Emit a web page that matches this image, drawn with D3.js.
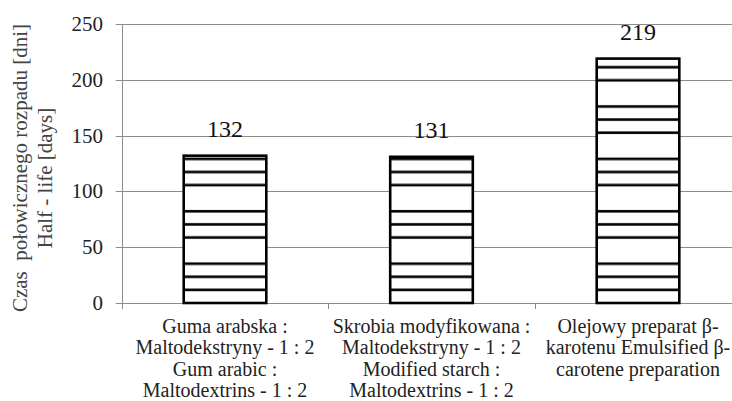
<!DOCTYPE html>
<html>
<head>
<meta charset="utf-8">
<script src="https://cdn.jsdelivr.net/npm/d3@7"></script>
<style>
  html, body { margin: 0; padding: 0; background: #fff; }
  svg { display: block; }
  svg text { font-family: "Liberation Serif", "Times New Roman", "DejaVu Serif", serif; }
</style>
</head>
<body>
<div id="chart"></div>
<script>
// half-life values per sample
const categories = ['guma', 'skrobia', 'olejowy'];
const categoryLines = [
  ['Guma arabska :', 'Maltodekstryny - 1 : 2', 'Gum arabic :', 'Maltodextrins - 1 : 2'],
  ['Skrobia modyfikowana :', 'Maltodekstryny - 1 : 2', 'Modified starch :', 'Maltodextrins - 1 : 2'],
  ['Olejowy preparat β-', 'karotenu Emulsified β-', 'carotene preparation']
];
const halfLife = [132, 131, 219];
const yTicks = [0, 50, 100, 150, 200, 250];
const yTitleLines = ['Czas  połowicznego rozpadu [dni]', 'Half - life [days]'];

const width = 732;
const height = 401;
const left = 121.75;
const step = 206.5;

const svg = d3.select('#chart').append('svg')
  .attr('width', width)
  .attr('height', height);

const x = d3.scaleBand()
  .domain(categories)
  .range([left, left + step * categories.length])
  .paddingInner(0.6)
  .paddingOuter(0.3);

const y = d3.scaleLinear()
  .domain([0, 250])
  .range([303, 24]);

// stripe pattern: 3 lines out of every 4 slots, anchored at the baseline
const slot = 13.1;
const defs = svg.append('defs');
const pat = defs.append('pattern')
  .attr('id', 'stripes')
  .attr('patternUnits', 'userSpaceOnUse')
  .attr('x', 0)
  .attr('y', y(0))
  .attr('width', 20)
  .attr('height', slot * 4);
pat.append('rect').attr('width', 20).attr('height', slot * 4).attr('fill', '#fff');
[1, 2, 3].forEach(k => {
  pat.append('rect')
    .attr('x', 0).attr('width', 20)
    .attr('y', k * slot - 1.3).attr('height', 2.6)
    .attr('fill', '#000');
});

const gridColor = '#8c8c8c';

// gridlines
svg.append('g').selectAll('line')
  .data(yTicks)
  .enter().append('line')
  .attr('x1', left - 6)
  .attr('x2', width)
  .attr('y1', d => Math.round(y(d)) + 0.5)
  .attr('y2', d => Math.round(y(d)) + 0.5)
  .attr('stroke', gridColor)
  .attr('stroke-width', 1);

// y axis line
svg.append('line')
  .attr('x1', Math.round(left) + 0.5).attr('x2', Math.round(left) + 0.5)
  .attr('y1', y(250)).attr('y2', y(0) + 0.5)
  .attr('stroke', gridColor);

// category ticks
const boundaries = categories.map(c => x(c) - x.step() * 0.3).concat([left + step * categories.length]);
svg.append('g').selectAll('line')
  .data(boundaries)
  .enter().append('line')
  .attr('x1', d => Math.round(d) + 0.5)
  .attr('x2', d => Math.round(d) + 0.5)
  .attr('y1', y(0))
  .attr('y2', y(0) + 6)
  .attr('stroke', gridColor);

// y tick labels
svg.append('g').selectAll('text')
  .data(yTicks)
  .enter().append('text')
  .attr('x', 103)
  .attr('y', d => y(d))
  .attr('dy', '0.33em')
  .attr('text-anchor', 'end')
  .attr('font-size', 21)
  .attr('fill', '#222')
  .text(d => d);

// bars
svg.append('g').selectAll('rect')
  .data(halfLife)
  .enter().append('rect')
  .attr('x', (d, i) => x(categories[i]))
  .attr('y', d => y(d))
  .attr('width', x.bandwidth())
  .attr('height', d => y(0) - y(d))
  .attr('fill', 'url(#stripes)')
  .attr('stroke', '#000')
  .attr('stroke-width', 2.6);

// value labels
svg.append('g').selectAll('text')
  .data(halfLife)
  .enter().append('text')
  .attr('x', (d, i) => x(categories[i]) + x.bandwidth() / 2)
  .attr('y', d => y(d) - 19)
  .attr('text-anchor', 'middle')
  .attr('font-size', 24)
  .attr('fill', '#111')
  .text(d => d);

// category labels
const catG = svg.append('g');
categoryLines.forEach((lines, i) => {
  const cx = x(categories[i]) + x.bandwidth() / 2;
  const t = catG.append('text')
    .attr('x', cx)
    .attr('y', 333)
    .attr('text-anchor', 'middle')
    .attr('font-size', 20)
    .attr('fill', '#222');
  lines.forEach((s, j) => {
    t.append('tspan')
      .attr('x', cx)
      .attr('y', 333 + j * 21.3)
      .text(s);
  });
});

// y axis title
yTitleLines.forEach((s, i) => {
  svg.append('text')
    .attr('transform', `translate(${20 + i * 25},${168 + i * 10}) rotate(-90)`)
    .attr('text-anchor', 'middle')
    .attr('dominant-baseline', 'central')
    .attr('font-size', 21)
    .attr('fill', '#444')
    .style('white-space', 'pre')
    .text(s);
});
</script>
</body>
</html>
